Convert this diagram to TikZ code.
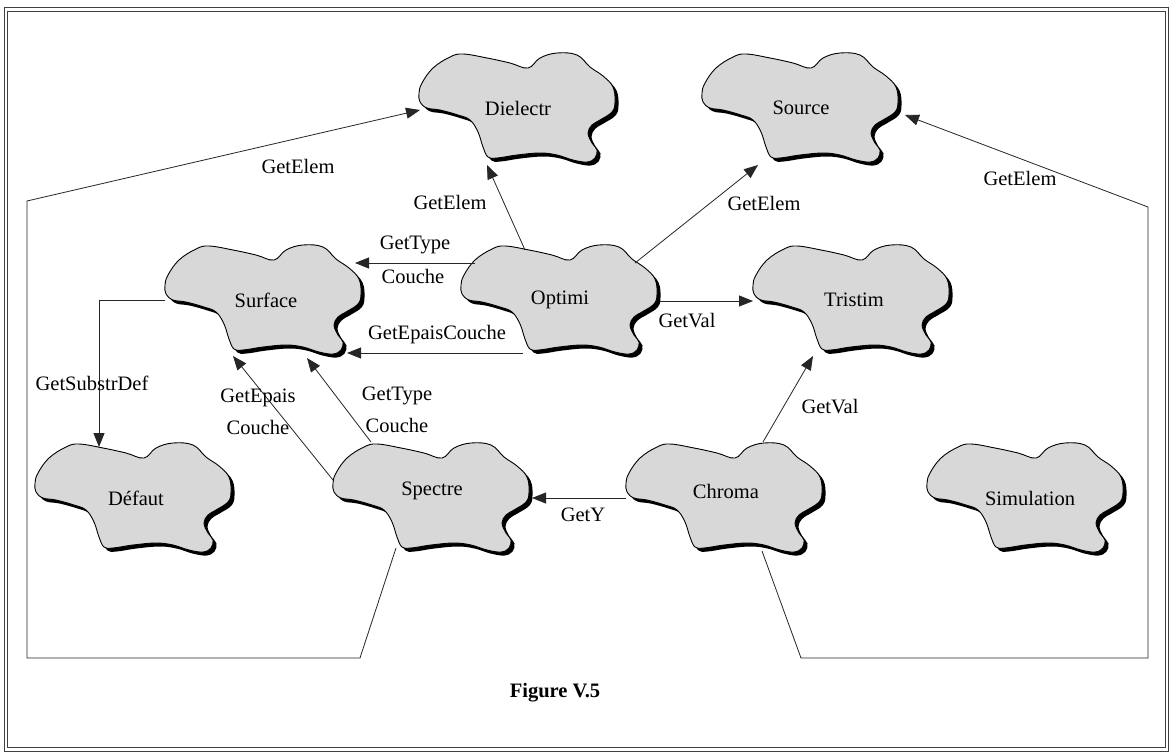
\documentclass[tikz,border=0pt]{standalone}
\usepackage{fontspec}
\setmainfont{Liberation Serif}
\usetikzlibrary{arrows.meta,calc}
\definecolor{cloudgray}{HTML}{D8D8D8}
\tikzset{
  cloudpic/.pic={
    \fill[black,shift={(3.5,3.5)}] plot[smooth cycle, tension=0.65] coordinates {(-96,-25) (-85,-40) (-68,-51) (-55,-54) (-31,-50) (-8,-45) (10,-40) (22,-50) (39,-55) (59,-53) (72,-41) (85,-32) (95,-21) (97,-6) (94,4) (82,12) (74,17) (70,25) (74,35) (79,42) (77,50) (69,54) (55,52) (39,47) (22,45) (-1,47) (-21,50) (-30,49) (-35,39) (-40,24) (-48,12) (-60,7) (-78,2) (-91,0) (-98,-6) (-99,-15)};
    \draw[fill=cloudgray, line width=0.9pt] plot[smooth cycle, tension=0.65] coordinates {(-96,-25) (-85,-40) (-68,-51) (-55,-54) (-31,-50) (-8,-45) (10,-40) (22,-50) (39,-55) (59,-53) (72,-41) (85,-32) (95,-21) (97,-6) (94,4) (82,12) (74,17) (70,25) (74,35) (79,42) (77,50) (69,54) (55,52) (39,47) (22,45) (-1,47) (-21,50) (-30,49) (-35,39) (-40,24) (-48,12) (-60,7) (-78,2) (-91,0) (-98,-6) (-99,-15)};
  },
  cname/.style={inner sep=0pt, minimum width=198pt, minimum height=110pt, font=\fontsize{20.5}{24}\selectfont},
  lbl/.style={inner sep=0pt, font=\fontsize{20.5}{24}\selectfont},
  conn/.style={draw=black!85, line width=0.8pt},
  arr/.style={conn, -{Triangle[length=14pt,width=11pt]}},
}
\begin{document}
\begin{tikzpicture}[x=1pt,y=-1pt]
\useasboundingbox (0,0) rectangle (1172,752);
\fill[white] (0,0) rectangle (1172,752);
% outer double frame
\draw[draw=black!75, line width=1.1pt, double=white, double distance=2.4pt] (5.8,9.5) rectangle (1167,749.5);

% clouds
\foreach \p in {(518,108),(801,108),(264,300),(560,300),(852,300),(134,498),(432,498),(725,498),(1026,498)}
  \pic at \p {cloudpic};
\node[cname] (diel) at (518,108) {Dielectr};
\node[cname] (source) at (801,108) {Source};
\node[cname] (surface) at (266,300) {Surface};
\node[cname] (optimi) at (560,300) {Optimi};
\node[cname] (tristim) at (854,300) {Tristim};
\node[cname] (defaut) at (136,498) {Défaut};
\node[cname] (spectre) at (432,491) {Spectre};
\node[cname] (chroma) at (726,491) {Chroma};
\node[cname] (simul) at (1030,498) {Simulation};

% connector end points
\coordinate (dielL) at ($(diel.center)+(-98,2)$);
\coordinate (dielB) at ($(diel.center)+(-31,57)$);
\coordinate (srcR) at ($(source.center)+(104,7)$);
\coordinate (srcB) at ($(source.center)+(-43,57)$);
\coordinate (surfL) at ($(surface.center)+(-101,0)$);
\coordinate (surfRT) at ($(surface.center)+(89,-37)$);
\coordinate (surfRB) at ($(surface.center)+(81,53)$);
\coordinate (surfB1) at ($(surface.center)+(-33,56)$);
\coordinate (surfB2) at ($(surface.center)+(41,58)$);
\coordinate (optT) at ($(optimi.center)+(-35,-50)$);
\coordinate (optTR) at ($(optimi.center)+(75,-37)$);
\coordinate (optLT) at ($(optimi.center)+(-85,-37)$);
\coordinate (optLB) at ($(optimi.center)+(-37,53)$);
\coordinate (optR) at ($(optimi.center)+(100,1)$);
\coordinate (triL) at ($(tristim.center)+(-101,1)$);
\coordinate (triB) at ($(tristim.center)+(-41,56)$);
\coordinate (defT) at ($(defaut.center)+(-37,-51)$);
\coordinate (speL) at ($(spectre.center)+(-99,-11)$);
\coordinate (speT) at ($(spectre.center)+(-61,-49)$);
\coordinate (speR) at ($(spectre.center)+(100,7)$);
\coordinate (speB) at ($(spectre.center)+(-36,57)$);
\coordinate (chrL) at ($(chroma.center)+(-100,7)$);
\coordinate (chrT) at ($(chroma.center)+(37,-49)$);
\coordinate (chrB) at ($(chroma.center)+(36,60)$);
\coordinate (cBL) at (360,658);
\coordinate (cLL) at (27,658);
\coordinate (cLT) at (27,201);
\coordinate (cBR) at (801,658);
\coordinate (cRR) at (1148,658);
\coordinate (cRT) at (1148,207);
\coordinate (surfK) at (99,300);

% connectors
\draw[arr] (speB) -- (cBL) -- (cLL) -- (cLT) -- (dielL);
\draw[arr] (chrB) -- (cBR) -- (cRR) -- (cRT) -- (srcR);
\draw[arr] (optT) -- (dielB);
\draw[arr] (optTR) -- (srcB);
\draw[arr] (optLT) -- (surfRT);
\draw[arr] (optLB) -- (surfRB);
\draw[arr] (optR) -- (triL);
\draw[arr] (surfL) -- (surfK) -- (defT);
\draw[arr] (speL) -- (surfB1);
\draw[arr] (speT) -- (surfB2);
\draw[arr] (chrL) -- (speR);
\draw[arr] (chrT) -- (triB);

% labels
\node[lbl] (l1) at (298,166) {GetElem};
\node[lbl] (l2) at (450,202) {GetElem};
\node[lbl] (l3) at (764,203) {GetElem};
\node[lbl] (l4) at (1020,178) {GetElem};
\node[lbl] (l5) at (415,245) {GetType};
\node[lbl] (l6) at (413,276) {Couche};
\node[lbl] (l7) at (437,335) {GetEpaisCouche};
\node[lbl] (l8) at (687,321) {GetVal};
\node[lbl] (l9) at (92,383) {GetSubstrDef};
\node[lbl] (l10) at (258,398) {GetEpais};
\node[lbl] (l11) at (258,427) {Couche};
\node[lbl] (l12) at (397,396) {GetType};
\node[lbl] (l13) at (397,425) {Couche};
\node[lbl] (l14) at (830,407) {GetVal};
\node[lbl] (l15) at (583,515) {GetY};
\node[lbl, font=\fontsize{20.5}{24}\selectfont\bfseries] (fig) at (555,693) {Figure V.5};
\end{tikzpicture}
\end{document}
